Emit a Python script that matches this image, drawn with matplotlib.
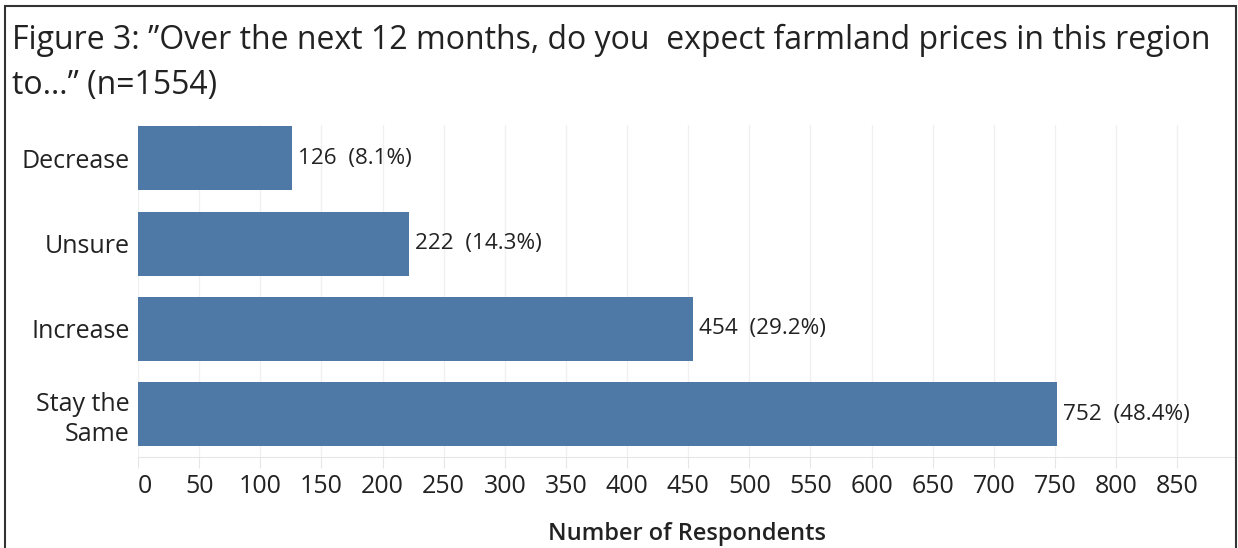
import matplotlib.pyplot as plt
from matplotlib.patches import Rectangle

# survey answers, drawn bottom to top
categories = ["Stay the\nSame", "Increase", "Unsure", "Decrease"]
counts = [752, 454, 222, 126]
percents = [48.4, 29.2, 14.3, 8.1]
x_ticks = list(range(0, 900, 50))

title = ("Figure 3: \u201dOver the next 12 months, do you  expect farmland prices in this region\n"
         "to\u2026\u201d (n=1554)")

plt.rcParams['font.family'] = ['Open Sans', 'DejaVu Sans']
text_color = "#222222"
bar_color = "#4e79a7"

W, H = 1238, 548
fig = plt.figure(figsize=(W / 100, H / 100), dpi=100)

# axes box in pixel terms
left, right, top, bottom = 138, 1236, 125, 457
ax = fig.add_axes([left / W, 1 - bottom / H, (right - left) / W, (bottom - top) / H])

y = list(range(len(categories)))
ax.barh(y, counts, height=0.75, color=bar_color, zorder=2)
for yi, c, p in zip(y, counts, percents):
    ax.annotate(f"{c}  ({p}%)", (c, yi), xytext=(4, 0), textcoords="offset points",
                va="center", ha="left", fontsize=16.2, color=text_color)

ax.set_xlim(0, 898)
ax.set_ylim(-0.5, 3.39)
ax.set_yticks(y)
ax.set_yticklabels(categories, fontsize=18, color=text_color, linespacing=1.25)
ax.set_xticks(x_ticks)
ax.set_xticklabels([str(t) for t in x_ticks], fontsize=18, color=text_color)
ax.get_xticklabels()[0].set_horizontalalignment("left")
ax.tick_params(axis="y", length=0, pad=6)
ax.tick_params(axis="x", length=8, color="#e6e6e6", pad=4)
ax.xaxis.grid(True, color="#f0f0f0", linewidth=1, zorder=0)
for s in ["top", "right", "left"]:
    ax.spines[s].set_visible(False)
ax.spines["bottom"].set_color("#e6e6e6")
ax.set_xlabel("Number of Respondents", fontsize=17, color=text_color,
              fontweight="semibold", labelpad=17)

fig.text(12 / W, 1 - 24 / H, title, fontsize=23, color=text_color,
         ha="left", va="top", linespacing=1.48)

# outer frame
fig.patches.append(Rectangle((5 / W, -0.02), (1236 - 5) / W, 1.02 - 6 / H,
                             transform=fig.transFigure, fill=False,
                             edgecolor="#333333", linewidth=1.5))

fig.savefig("out.png", dpi=100)
